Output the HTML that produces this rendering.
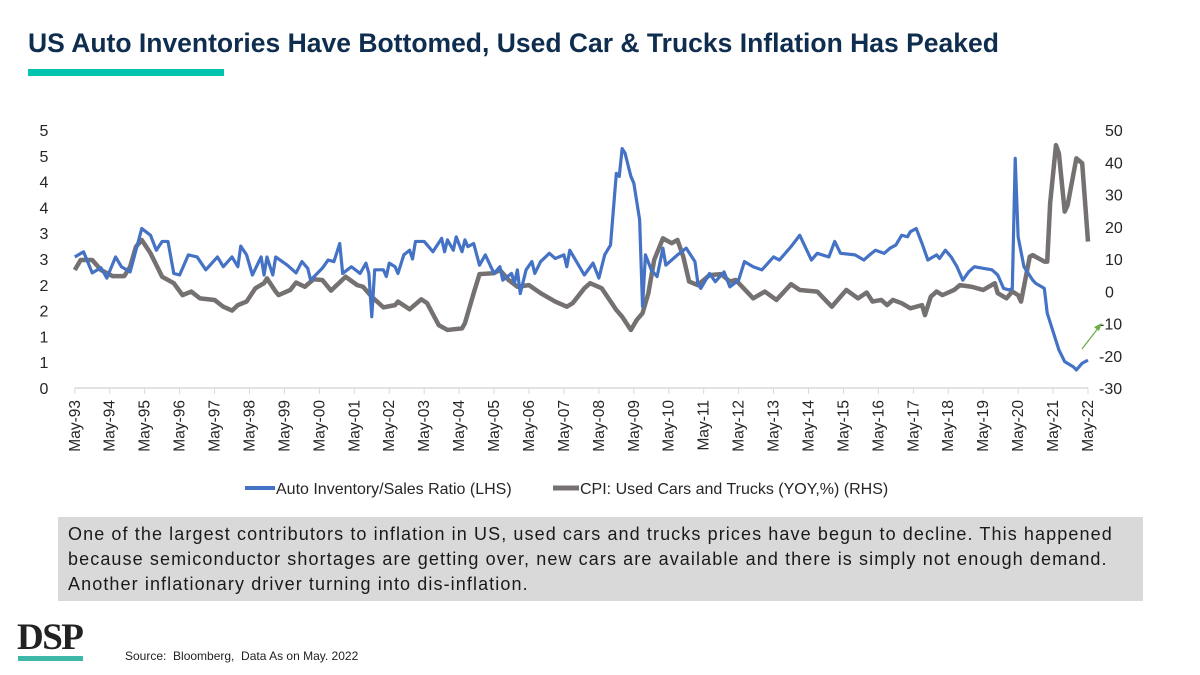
<!DOCTYPE html>
<html><head><meta charset="utf-8"><style>
body{margin:0;background:#fff;}
#wrap{position:relative;width:1200px;height:675px;overflow:hidden;font-family:"Liberation Sans",sans-serif;}
</style></head><body>
<div id="wrap">
<div style="position:absolute;left:28px;top:28px;font-family:'Liberation Sans',sans-serif;font-weight:bold;font-size:26.5px;color:#0F2D4F;white-space:nowrap;">US Auto Inventories Have Bottomed, Used Car &amp; Trucks Inflation Has Peaked</div>
<div style="position:absolute;left:28px;top:69px;width:196px;height:7px;background:#00C4B0;"></div>
<svg id="chart" width="1200" height="510" style="position:absolute;left:0;top:0;"></svg>
<div style="position:absolute;left:58px;top:517px;width:1085px;height:84px;background:#D9D9D9;"></div>
<div style="position:absolute;left:68px;top:522px;width:1075px;font-size:18px;line-height:25px;color:#1a1a1a;white-space:nowrap;letter-spacing:1.1px;">One of the largest contributors to inflation in US, used cars and trucks prices have begun to decline. This happened<br>because semiconductor shortages are getting over, new cars are available and there is simply not enough demand.<br>Another inflationary driver turning into dis-inflation.</div>
<div style="position:absolute;left:17px;top:616px;font-family:'Liberation Serif',serif;font-weight:bold;font-size:37px;color:#222;letter-spacing:-1.5px;">DSP</div>
<div style="position:absolute;left:18px;top:656px;width:65px;height:5px;background:#3DB8A8;"></div>
<div style="position:absolute;left:125px;top:649px;font-size:12px;color:#222;">Source:&nbsp; Bloomberg,&nbsp; Data As on May. 2022</div>
</div>
<script>
const blueMonths=[0,3,6,9,11,14,16,19,23,26,28,30,32,34,36,39,42,45,49,51,54,56,57,59,61,64,65,66,68,69,73,76,78,80,81,85,87,89,91,92,95,98,100,101,102,103,106,107,108,110,111,113,115,116,117,120,123,126,127,128,130,131,133,134,135,137,139,141,144,146,147,150,151,152,153,155,157,158,160,163,165,168,169,170,172,175,178,180,182,184,186,187,188,189,191,192,194,195,196,198,200,202,203,207,210,213,214,215,218,220,223,225,228,230,233,236,240,242,246,249,253,255,259,261,263,268,271,273,275,278,280,282,284,286,287,289,291,293,296,297,299,301,303,305,307,309,312,315,317,319,321,322,323,324,326,329,330,333,334,338,340,343,344,346,348];
const blueValues=[2.54,2.64,2.23,2.33,2.13,2.54,2.35,2.25,3.09,2.96,2.67,2.84,2.84,2.22,2.19,2.58,2.54,2.29,2.54,2.35,2.54,2.35,2.75,2.58,2.19,2.54,2.19,2.54,2.19,2.54,2.38,2.23,2.45,2.32,2.09,2.32,2.48,2.45,2.80,2.22,2.35,2.22,2.42,2.22,1.38,2.29,2.29,2.16,2.42,2.35,2.22,2.58,2.67,2.5,2.84,2.84,2.64,2.90,2.64,2.87,2.67,2.93,2.64,2.87,2.74,2.80,2.38,2.58,2.22,2.35,2.09,2.22,2.03,2.29,1.83,2.29,2.45,2.22,2.45,2.61,2.51,2.58,2.35,2.67,2.48,2.19,2.42,2.13,2.58,2.77,4.16,4.1,4.64,4.55,4.10,3.97,3.26,1.58,2.58,2.29,2.16,2.71,2.38,2.58,2.71,2.45,2.03,1.93,2.22,2.06,2.25,1.96,2.09,2.45,2.35,2.29,2.54,2.48,2.74,2.96,2.48,2.61,2.54,2.84,2.61,2.58,2.48,2.58,2.67,2.61,2.71,2.77,2.96,2.93,3.03,3.09,2.80,2.48,2.58,2.51,2.67,2.54,2.35,2.09,2.25,2.35,2.32,2.29,2.19,1.93,1.90,1.93,4.45,2.93,2.35,2.09,2.03,1.93,1.45,0.74,0.51,0.41,0.35,0.48,0.54];
const grayMonths=[0,2,6,9,13,17,19,21,23,26,30,34,37,40,43,48,51,54,56,59,62,65,66,69,70,74,76,79,82,85,88,93,97,99,102,106,110,111,115,119,121,125,128,133,134,137,139,144,146,149,152,156,160,165,169,171,175,177,181,186,188,191,193,195,197,199,202,205,207,209,211,214,218,222,225,227,233,237,241,246,249,255,260,265,269,272,274,277,279,281,284,287,291,292,294,296,298,302,304,308,312,316,317,320,322,324,325,328,329,333,334,335,337,338,340,341,344,346,348];
const grayValues=[6.6,9.7,9.7,6.6,4.7,4.7,7.6,13.8,15.9,11.8,4.5,2.5,-1.2,-0.1,-2.2,-2.7,-4.8,-6.0,-4.3,-3.2,0.9,2.5,4.0,-0.1,-1.2,0.4,2.7,1.4,3.7,3.5,0.2,4.5,1.9,1.4,-1.7,-5.0,-4.3,-3.2,-5.6,-2.5,-3.7,-10.5,-12.0,-11.5,-9.9,-0.6,5.3,5.6,6.6,3.5,1.4,1.9,-0.6,-3.2,-4.8,-3.7,0.9,2.5,0.9,-5.8,-7.9,-12.0,-8.9,-6.8,-0.6,9.7,16.4,14.9,15.9,10.7,3.0,1.9,5.0,5.3,3.0,3.5,-2.2,-0.1,-2.7,2.2,0.4,-0.1,-4.8,0.4,-2.2,-0.4,-3.2,-2.7,-4.3,-2.7,-3.7,-5.3,-4.3,-7.4,-1.7,-0.1,-1.2,0.4,1.9,1.4,0.4,2.5,-0.6,-2.2,-0.1,-1.2,-3.2,10.7,11.2,9.2,9.2,27.3,45.3,42.8,24.7,26.7,41.2,39.7,15.4];
const xLabels=["May-93","May-94","May-95","May-96","May-97","May-98","May-99","May-00","May-01","May-02","May-03","May-04","May-05","May-06","May-07","May-08","May-09","May-10","May-11","May-12","May-13","May-14","May-15","May-16","May-17","May-18","May-19","May-20","May-21","May-22"];
const leftTicks=[0,0.5,1,1.5,2,2.5,3,3.5,4,4.5,5];
const rightTicks=[-30,-20,-10,0,10,20,30,40,50];

const svg=document.getElementById('chart');
const NS='http://www.w3.org/2000/svg';
const X0=74.8,X1=1088,YT=130,YB=388;
const xs=m=>X0+(X1-X0)*m/348;
const yl=v=>YB-(YB-YT)*v/5;
const yr=v=>YB-(YB-YT)*(v+30)/80;
function mk(t,a){const e=document.createElementNS(NS,t);for(const k in a)e.setAttribute(k,a[k]);svg.appendChild(e);return e;}

let ax=mk('line',{x1:X0,x2:X1,y1:YB,y2:YB,stroke:'#d9d9d9','stroke-width':1.5});


xLabels.forEach((l,i)=>{
  const x=xs(i*12);
  const tk=mk('line',{x1:x,x2:x,y1:YB,y2:YB+6,stroke:'#d9d9d9','stroke-width':1});
  
  
  const t=mk('text',{x:0,y:0,transform:`translate(${x+5},400) rotate(-90)`,'text-anchor':'end','font-size':15.5,fill:'#262626','font-family':'Liberation Sans, sans-serif'});
  t.textContent=l;
  
  
});
leftTicks.forEach(v=>{
  const t=mk('text',{x:44,y:yl(v)+6,'text-anchor':'middle','font-size':16,fill:'#262626','font-family':'Liberation Sans, sans-serif'});
  t.textContent=String(Math.round(v));
  
  
});
rightTicks.forEach(v=>{
  const t=mk('text',{x:v<0?1099:1105,y:yr(v)+6,'text-anchor':'start','font-size':16,fill:'#262626','font-family':'Liberation Sans, sans-serif'});
  t.textContent=v;
  
  
});
const gp=mk('polyline',{points:grayMonths.map((m,i)=>xs(m)+','+yr(grayValues[i])).join(' '),fill:'none',stroke:'#767171','stroke-width':4.5,'stroke-linejoin':'round'});


const bp=mk('polyline',{points:blueMonths.map((m,i)=>xs(m)+','+yl(blueValues[i])).join(' '),fill:'none',stroke:'#4472C4','stroke-width':3.2,'stroke-linejoin':'round'});


const ar=mk('line',{x1:1082,y1:349,x2:1099,y2:327,stroke:'#70AD47','stroke-width':1.3});


const ah=mk('polygon',{points:'1102,323 1094,327 1099,331',fill:'#70AD47'});


const l1=mk('line',{x1:245,x2:275,y1:488,y2:488,stroke:'#4472C4','stroke-width':4});


const t1=mk('text',{x:276,y:494,'font-size':16,fill:'#262626','font-family':'Liberation Sans, sans-serif'});
t1.textContent='Auto Inventory/Sales Ratio (LHS)';


const l2=mk('line',{x1:553,x2:579,y1:488,y2:488,stroke:'#767171','stroke-width':5});


const t2=mk('text',{x:580,y:494,'font-size':16,fill:'#262626','font-family':'Liberation Sans, sans-serif'});
t2.textContent='CPI: Used Cars and Trucks (YOY,%) (RHS)';


</script>
</body></html>
